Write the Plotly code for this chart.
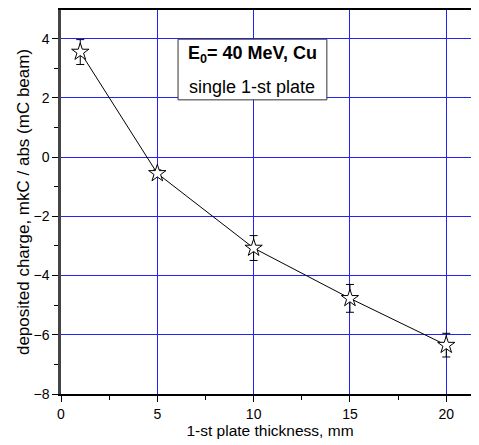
import plotly.graph_objects as go

thickness_mm = [1, 5, 10, 15, 20]
charge = [3.55, -0.55, -3.07, -4.77, -6.35]
charge_err = [0.42, 0.12, 0.42, 0.47, 0.40]

x_ticks = [0, 5, 10, 15, 20]
y_ticks = [-8, -6, -4, -2, 0, 2, 4]

label_line1 = "<b>E<sub>0</sub>= 40 MeV, Cu</b>"
label_line2 = "single 1-st plate"

FONT = "Liberation Sans"
GRID = "#2424f0"
XR = [0, 21.7]
YR = [-8, 4.97]

fig = go.Figure()
fig.add_trace(go.Scatter(
    x=thickness_mm, y=charge,
    mode="lines+markers",
    line=dict(color="black", width=1),
    marker=dict(symbol="star", size=13, color="white",
                line=dict(color="black", width=1)),
    error_y=dict(type="data", array=charge_err, visible=True,
                 color="black", thickness=1, width=4),
    showlegend=False,
))

fig.update_layout(
    width=471, height=437,
    margin=dict(l=53, r=0, t=2, b=51, autoexpand=False),
    paper_bgcolor="white", plot_bgcolor="white",
    font=dict(family=FONT, size=13, color="black"),
    xaxis=dict(
        range=XR, tickvals=x_ticks, ticks="outside", ticklen=6,
        tickcolor="black", showline=True, linecolor="black", linewidth=1.5,
        mirror=True,
        showgrid=True, gridcolor=GRID, gridwidth=1, zeroline=False,
        automargin=False,
        minor=dict(ticks="outside", ticklen=4, dtick=2.5, tick0=0,
                   tickcolor="black", showgrid=False),
        title=dict(text="1-st plate thickness, mm", font=dict(size=15.5),
                   standoff=2),
        tickfont=dict(size=14),
    ),
    yaxis=dict(
        range=YR, tickvals=y_ticks, ticks="outside", ticklen=6,
        tickcolor="black", showline=True, linecolor="#444444", linewidth=2.5,
        showgrid=True, gridcolor=GRID, gridwidth=1, zeroline=False,
        automargin=False,
        minor=dict(ticks="outside", ticklen=4, dtick=1, tick0=0,
                   tickcolor="black", showgrid=False),
        title=dict(text="deposited charge, mkC / abs (mC beam)",
                   font=dict(size=17), standoff=0),
        tickfont=dict(size=14),
    ),
)

# label box (paper coordinates)
fig.add_shape(type="rect", xref="paper", yref="paper",
              x0=0.280, x1=0.636, y0=0.766, y1=0.924,
              line=dict(color="#333333", width=1), fillcolor="white",
              layer="above")
fig.add_annotation(
    xref="paper", yref="paper", x=0.458, y=0.883,
    xanchor="center", yanchor="middle", text=label_line1,
    showarrow=False, font=dict(family=FONT, size=18, color="black"),
)
fig.add_annotation(
    xref="paper", yref="paper", x=0.458, y=0.800,
    xanchor="center", yanchor="middle", text=label_line2,
    showarrow=False, font=dict(family=FONT, size=18, color="black"),
)

fig.write_html("out.html")
